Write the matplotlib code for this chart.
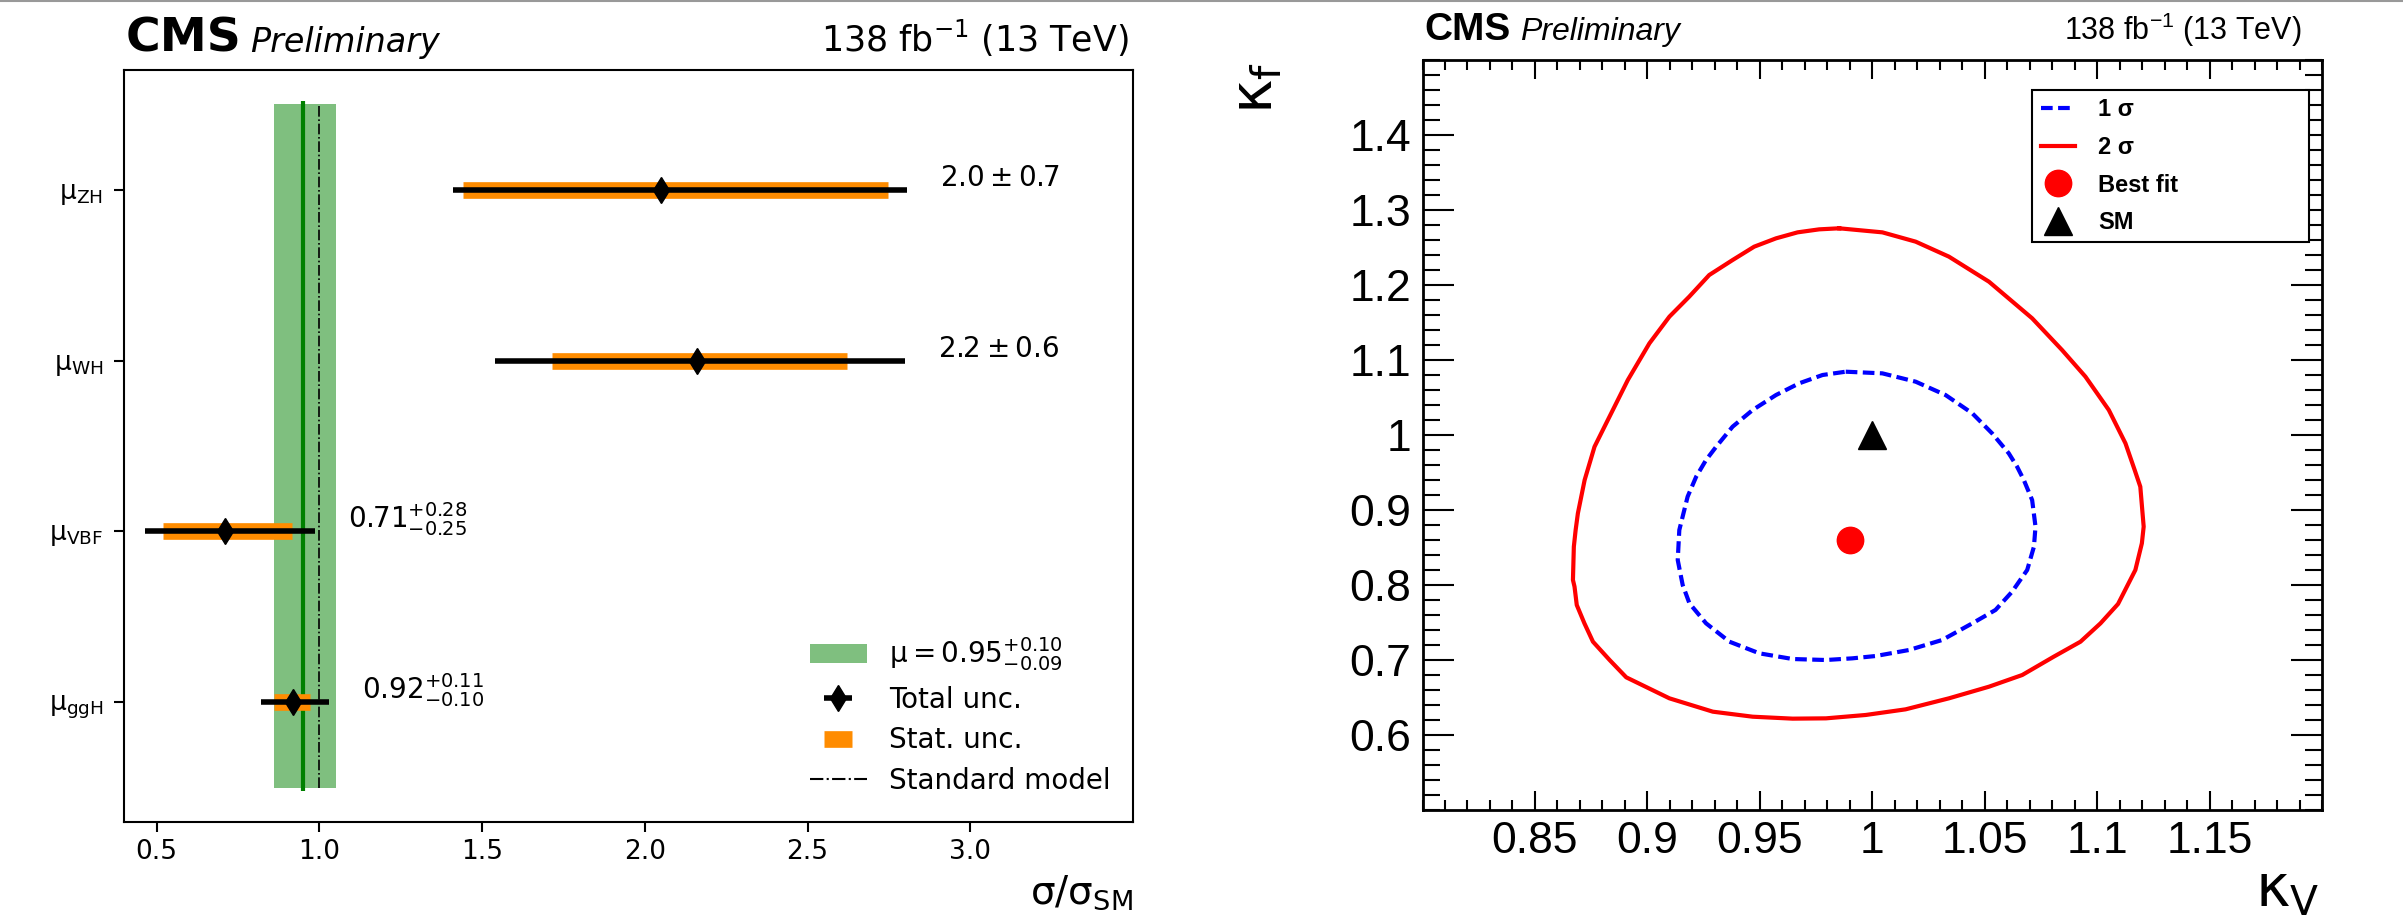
import matplotlib
matplotlib.use("Agg")
import matplotlib.pyplot as plt
from matplotlib.lines import Line2D
from matplotlib.patches import Patch
from matplotlib.ticker import MultipleLocator, FixedLocator, FuncFormatter

plt.rcParams["mathtext.default"] = "regular"
plt.rcParams["mathtext.fontset"] = "custom"
plt.rcParams["mathtext.rm"] = "Liberation Sans"
plt.rcParams["mathtext.it"] = "Liberation Sans:italic"
plt.rcParams["mathtext.bf"] = "Liberation Sans:bold"

# signal strengths per production mode, bottom to top
processes = ["ggH", "VBF", "WH", "ZH"]
mu_best = [0.92, 0.71, 2.16, 2.05]
tot_lo = [0.10, 0.245, 0.62, 0.64]
tot_hi = [0.11, 0.278, 0.64, 0.757]
stat_lo = [0.059, 0.19, 0.446, 0.607]
stat_hi = [0.052, 0.205, 0.46, 0.698]
mu_text = [r"$0.92^{+0.11}_{-0.10}$", r"$0.71^{+0.28}_{-0.25}$",
           r"$2.2 \pm 0.6$", r"$2.0 \pm 0.7$"]

# combined signal strength
mu_comb = 0.95
comb_lo = 0.09
comb_hi = 0.10

# kappa_V / kappa_f likelihood contours
kv_2sig = [0.9853, 1.0045, 1.0193, 1.0341, 1.0519, 1.0711, 1.0844, 1.0948, 1.1052,
           1.1126, 1.1167, 1.1192, 1.1207, 1.1199, 1.1170, 1.1093, 1.1015, 1.0926,
           1.0807, 1.0667, 1.0519, 1.0341, 1.0148, 0.9971, 0.9794, 0.9646, 0.9468,
           0.9291, 0.9098, 0.8906, 0.8832, 0.8758, 0.8720, 0.8686, 0.8676, 0.8669,
           0.8673, 0.8681, 0.8691, 0.8706, 0.8721, 0.8743, 0.8765, 0.8802, 0.8839,
           0.8876, 0.8913, 0.9009, 0.9098, 0.9186, 0.9275, 0.9379, 0.9475, 0.9572,
           0.9668, 0.9764]
kf_2sig = [1.2756, 1.2702, 1.2578, 1.2378, 1.2044, 1.1556, 1.1133, 1.0778, 1.0333,
           0.9889, 0.9533, 0.9311, 0.8778, 0.8556, 0.8200, 0.7747, 0.7489, 0.7244,
           0.7044, 0.6800, 0.6644, 0.6489, 0.6342, 0.6267, 0.6222, 0.6218, 0.6244,
           0.6311, 0.6489, 0.6769, 0.7000, 0.7244, 0.7489, 0.7733, 0.7978, 0.8067,
           0.8511, 0.8733, 0.8956, 0.9178, 0.9400, 0.9622, 0.9844, 1.0067, 1.0289,
           1.0511, 1.0733, 1.1222, 1.1578, 1.1844, 1.2133, 1.2333, 1.2511, 1.2622,
           1.2702, 1.2742]
kv_1sig = [0.9882, 1.0045, 1.0193, 1.0326, 1.0445, 1.0533, 1.0607, 1.0644, 1.0674,
           1.0711, 1.0726, 1.0719, 1.0689, 1.0622, 1.0548, 1.0445, 1.0311, 1.0163,
           1.0015, 0.9911, 0.9794, 0.9646, 0.9498, 0.9365, 0.9261, 0.9187, 0.9157,
           0.9135, 0.9142, 0.9179, 0.9217, 0.9261, 0.9306, 0.9379, 0.9468, 0.9572,
           0.9675, 0.9779]
kf_1sig = [1.0844, 1.0822, 1.0711, 1.0533, 1.0289, 1.0022, 0.9756, 0.9578, 0.9400,
           0.9133, 0.8778, 0.8511, 0.8200, 0.7911, 0.7667, 0.7489, 0.7267, 0.7133,
           0.7053, 0.7022, 0.7000, 0.7013, 0.7089, 0.7244, 0.7489, 0.7756, 0.8000,
           0.8333, 0.8733, 0.9178, 0.9444, 0.9667, 0.9844, 1.0111, 1.0333, 1.0533,
           1.0689, 1.0800]
best_fit = (0.99, 0.86)
sm_point = (1.0, 1.0)

W, H = 2403, 916
fig = plt.figure(figsize=(W / 100, H / 100), dpi=100)

def frame(x0, y0, x1, y1):
    return [x0 / W, 1 - y1 / H, (x1 - x0) / W, (y1 - y0) / H]

# ---------------- left: signal strengths ----------------
ax1 = fig.add_axes(frame(124, 70, 1133, 822))
ypos = list(range(len(processes)))

band = ax1.fill_betweenx([-0.5, 3.5], mu_comb - comb_lo, mu_comb + comb_hi,
                         color="green", alpha=0.5, lw=0, zorder=1)
ax1.vlines(mu_comb, -0.52, 3.52, color="green", lw=3, zorder=2)
ax1.vlines(1.0, -0.5, 3.5, colors="k", linestyles="-.", lw=1.2, zorder=2)

stat = ax1.errorbar(mu_best, ypos, xerr=[stat_lo, stat_hi], fmt="none",
                    ecolor="darkorange", elinewidth=12, zorder=3)
tot = ax1.errorbar(mu_best, ypos, xerr=[tot_lo, tot_hi], fmt="d", color="k",
                   ms=13, elinewidth=4, zorder=4)

for i, txt in enumerate(mu_text):
    ax1.text(mu_best[i] + tot_hi[i] + 0.1, ypos[i] + 0.02, txt, fontsize=20,
             va="baseline", ha="left", math_fontfamily="dejavusans")

ax1.set_xlim(0.4, 3.5)
ax1.set_ylim(-0.7, 3.7)
ax1.set_xticks([0.5, 1.0, 1.5, 2.0, 2.5, 3.0])
ax1.set_yticks(ypos)
ax1.set_yticklabels([r"$\mu_{%s}$" % p for p in processes], math_fontfamily="dejavusans")
ax1.tick_params(axis="both", direction="out", length=7, width=1.5, labelsize=19)
ax1.tick_params(axis="y", pad=8)
ax1.tick_params(axis="x", pad=5)
for s in ax1.spines.values():
    s.set_linewidth(1.5)
ax1.set_xlabel(r"$\sigma/\sigma_{SM}$", fontsize=28, loc="right", labelpad=6,
               math_fontfamily="dejavusans")

sm_handle = Line2D([], [], color="k", ls="-.", lw=1.5)
comb_handle = Patch(color="green", alpha=0.5, lw=0)
leg1 = ax1.legend([comb_handle, tot, stat, sm_handle],
                  [r"$\mu = 0.95^{+0.10}_{-0.09}$", "Total unc.", "Stat. unc.", "Standard model"],
                  loc="lower left", bbox_to_anchor=(0.655, 0.003), frameon=False,
                  fontsize=20, handlelength=2.05, handletextpad=0.8, labelspacing=0.45)
for t in leg1.get_texts():
    t.set_math_fontfamily("dejavusans")

fig.text(126 / W, 1 - 52 / H, "CMS", fontsize=34, fontweight="bold", va="baseline")
fig.text(250 / W, 1 - 52 / H, "Preliminary", fontsize=24, style="italic", va="baseline")
fig.text(1129 / W, 1 - 52 / H, r"138 fb$^{-1}$ (13 TeV)", fontsize=25, ha="right",
         va="baseline", math_fontfamily="dejavusans")

# ---------------- right: kappa_V vs kappa_f ----------------
hel = "Liberation Sans"
ax2 = fig.add_axes(frame(1422.5, 60, 2322, 810))
l1, = ax2.plot(kv_1sig + kv_1sig[:1], kf_1sig + kf_1sig[:1], color="blue", lw=3,
               ls=(0, (2.8, 1.3)))
l2, = ax2.plot(kv_2sig + kv_2sig[:1], kf_2sig + kf_2sig[:1], color="red", lw=3)
bf, = ax2.plot([best_fit[0]], [best_fit[1]], "o", color="red", ms=19, ls="none")
sm, = ax2.plot([sm_point[0]], [sm_point[1]], "^", color="k", ms=20, ls="none")

ax2.set_xlim(0.8, 1.2)
ax2.set_ylim(0.5, 1.5)
ax2.xaxis.set_major_locator(FixedLocator([0.85, 0.9, 0.95, 1.0, 1.05, 1.1, 1.15]))
ax2.yaxis.set_major_locator(FixedLocator([0.6, 0.7, 0.8, 0.9, 1.0, 1.1, 1.2, 1.3, 1.4]))
ax2.xaxis.set_minor_locator(MultipleLocator(0.01))
ax2.yaxis.set_minor_locator(MultipleLocator(0.02))
fmt = FuncFormatter(lambda v, p: "%g" % round(v, 2))
ax2.xaxis.set_major_formatter(fmt)
ax2.yaxis.set_major_formatter(fmt)
ax2.tick_params(which="both", direction="in", top=True, right=True, width=1.5)
ax2.tick_params(axis="x", which="major", length=14, pad=8)
ax2.tick_params(axis="x", which="minor", length=7)
ax2.tick_params(axis="y", which="major", length=22, pad=8)
ax2.tick_params(axis="y", which="minor", length=12)
for lab in ax2.get_xticklabels() + ax2.get_yticklabels():
    lab.set_fontfamily(hel)
    lab.set_fontsize(32)
for s in ax2.spines.values():
    s.set_linewidth(2)

leg2 = ax2.legend([l1, l2, bf, sm], ["1 σ", "2 σ", "Best fit", "SM"],
                  loc="upper left", bbox_to_anchor=(0.678, 0.96, 0.308, 0.0),
                  mode="expand", fancybox=False, edgecolor="k", framealpha=1,
                  prop={"family": hel, "weight": "bold", "size": 17},
                  handlelength=1.45, handletextpad=1.0, labelspacing=0.62,
                  borderaxespad=0, borderpad=0.35)
leg2.get_frame().set_linewidth(1.5)

fig.text(1424 / W, 1 - 40 / H, "CMS", fontsize=28, fontweight="bold", family=hel,
         va="baseline")
fig.text(1520 / W, 1 - 40 / H, "Preliminary", fontsize=23, style="italic", family=hel,
         va="baseline")
fig.text(2302 / W, 1 - 40 / H, r"138 fb$^{-1}$ (13 TeV)", fontsize=22, family=hel,
         ha="right", va="baseline")
fig.text(1256 / W, 1 - 62 / H, r"$\kappa_{f}$", fontsize=42, rotation=90,
         ha="center", va="top")
fig.text(2320 / W, 1 - 890 / H, r"$\kappa_{V}$", fontsize=42, ha="right", va="center")

# thin grey rule along the top edge
fig.add_artist(Line2D([0, 1], [1 - 1 / H, 1 - 1 / H], color="#999999", lw=1.5,
                      transform=fig.transFigure))

fig.savefig("out.png", dpi=100)
